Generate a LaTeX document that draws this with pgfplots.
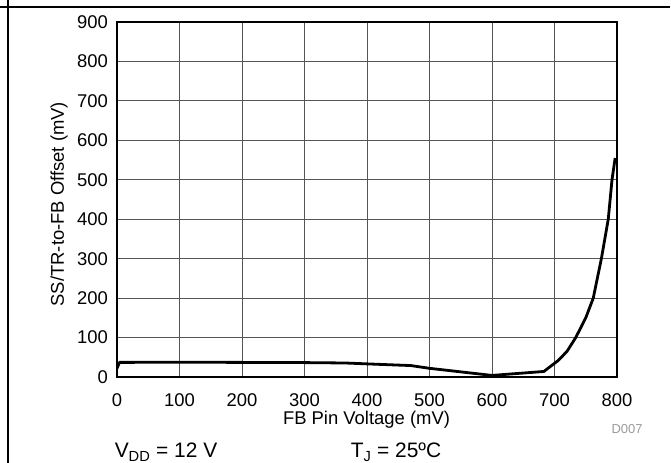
\documentclass[border=0pt]{standalone}
\usepackage{fontspec}
\setmainfont{Liberation Sans}
\usepackage{pgfplots}
\pgfplotsset{compat=1.18}
\definecolor{gridgray}{HTML}{555555}
\definecolor{tagray}{HTML}{999999}

\pgfplotstableread{
x y
0 22
4 37
100 37.5
200 37
300 36.5
365 35.5
420 32
470 29
500 22
550 13
600 4
683 14
706 42
720 65
734 100
750 150
762 200
775 300
786 400
792 500
797 555
}\offsetdata

\begin{document}
\begin{tikzpicture}[x=1bp,y=1bp]
\useasboundingbox (0,0) rectangle (671,463);
% outer frame of the figure
\draw[line width=1.5bp] (0,456) -- (670,456);
\draw[line width=1.5bp] (8,463) -- (8,0);

\begin{axis}[
  at={(117bp,86bp)}, anchor=south west,
  scale only axis,
  width=500bp, height=355bp,
  xmin=0, xmax=800, ymin=0, ymax=900,
  xtick={0,100,...,800},
  ytick={0,100,...,900},
  grid=major,
  major grid style={gridgray, line width=0.8bp},
  axis line style={line width=2.8bp},
  tick style={draw=none},
  /pgf/number format/assume math mode=true,
  ticklabel style={font=\fontsize{18.5}{20}\selectfont},
  x tick label style={anchor=base, inner sep=0pt, yshift=-30bp},
  y tick label style={anchor=east, inner sep=0pt, xshift=-9bp},
  label style={font=\fontsize{18.5}{20}\selectfont},
  xlabel={FB Pin Voltage (mV)},
  ylabel={SS/TR-to-FB Offset (mV)},
  x label style={at={(axis description cs:0.499,-0.135)}, anchor=base, inner sep=0pt},
  y label style={at={(axis description cs:-0.116,0.487)}, anchor=center, rotate=0},
]
\addplot[black, line width=2.8bp, line join=round] table[x=x, y=y] {\offsetdata};
\end{axis}

\node[anchor=base, font=\fontsize{21}{24}\selectfont] at (166,5) {V\textsubscript{DD} = 12 V};
\node[anchor=base, font=\fontsize{21}{24}\selectfont] at (396,5) {T\textsubscript{J} = 25ºC};
\node[anchor=base, font=\fontsize{13}{15}\selectfont, text=tagray] at (627,29) {D007};
\end{tikzpicture}
\end{document}
